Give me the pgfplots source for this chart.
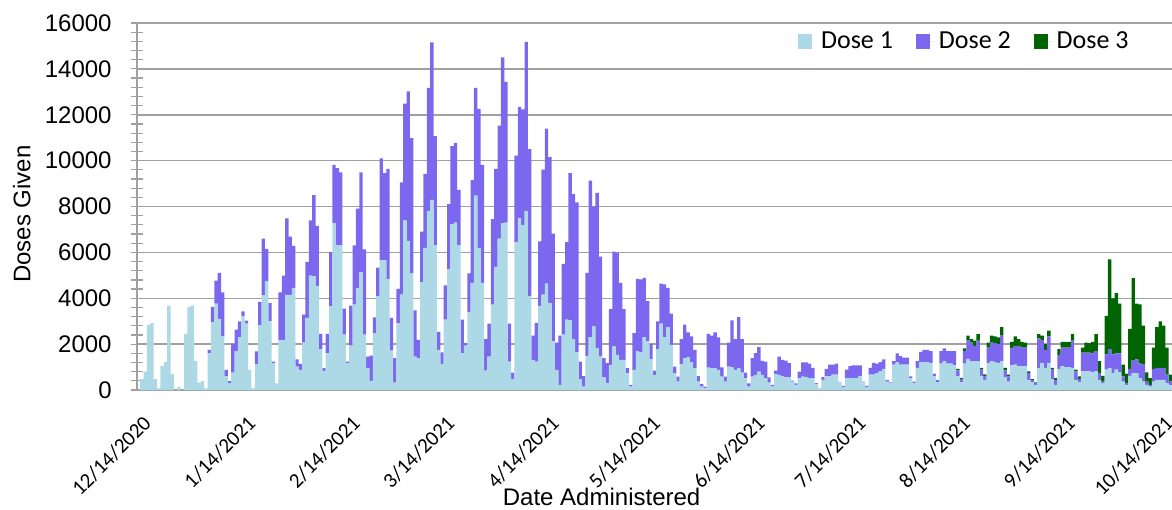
\documentclass[border=0pt]{standalone}
\usepackage{pgfplots}
\pgfplotsset{compat=1.18}
\usepackage{pgfplotstable}
\usepackage{fontspec}
\setmainfont{Liberation Sans}
\newfontfamily\carlito{Carlito}
\definecolor{doseone}{HTML}{ADD8E6}
\definecolor{dosetwo}{HTML}{7B68EE}
\definecolor{dosethree}{HTML}{006400}
\definecolor{gridgray}{HTML}{A0A0A0}
\pgfplotstableread{
day d1 t2 t3
0 0 0 0
1 470 470 470
2 800 800 800
3 2850 2850 2850
4 2920 2920 2920
5 470 470 470
6 70 70 70
7 1050 1050 1050
8 1210 1210 1210
9 3680 3680 3680
10 700 700 700
11 0 0 0
12 120 120 120
13 0 0 0
14 2450 2450 2450
15 3620 3620 3620
16 3690 3690 3690
17 1270 1270 1270
18 320 320 320
19 390 390 390
20 70 70 70
21 1600 1750 1750
22 2950 3620 3620
23 3770 4770 4770
24 3100 5110 5110
25 2340 4260 4260
26 610 880 880
27 290 390 390
28 760 2010 2010
29 1680 2630 2630
30 2290 2990 2990
31 3210 3430 3430
32 2890 3020 3020
33 880 880 880
34 70 70 70
35 1120 1680 1680
36 2830 3840 3840
37 4120 6600 6600
38 4750 6150 6150
39 2990 3790 3790
40 1170 1240 1240
41 290 290 290
42 2190 4260 4260
43 2190 4990 4990
44 4150 7480 7480
45 4150 6690 6690
46 4450 6280 6280
47 1020 1340 1340
48 880 1140 1140
49 2070 3290 3290
50 3140 5590 5590
51 4990 7400 7400
52 4960 8500 8500
53 4530 7150 7150
54 1780 2450 2450
55 830 950 950
56 1610 2450 2450
57 3650 6020 6020
58 7270 9810 9810
59 6310 9670 9670
60 6310 9490 9490
61 2410 3550 3550
62 1170 1240 1240
63 1930 3680 3680
64 3720 6310 6310
65 4450 7910 7910
66 5140 9490 9490
67 2410 6130 6130
68 950 1460 1460
69 400 1500 1500
70 2480 3170 3170
71 4090 5330 5330
72 5660 10100 10100
73 5660 9460 9460
74 4820 9640 9640
75 1720 3140 3140
76 320 1390 1390
77 2920 4410 4410
78 4160 9050 9050
79 7400 12480 12480
80 6500 13020 13020
81 5080 10980 10980
82 1460 3470 3470
83 1390 2190 2190
84 4700 6900 6900
85 6200 9420 9420
86 7810 13170 13170
87 8290 15150 15150
88 6310 11070 11070
89 1750 2530 2530
90 1140 1640 1640
91 3070 4560 4560
92 5260 8100 8100
93 7230 10630 10630
94 7300 10770 10770
95 6310 8730 8730
96 1610 3070 3070
97 1930 2040 2040
98 3390 5080 5080
99 4670 9150 9150
100 8470 13170 13170
101 6200 12260 12260
102 4670 9810 9810
103 850 2220 2220
104 1460 2890 2890
105 3720 7450 7450
106 5370 9640 9640
107 6600 11530 11530
108 7270 14500 14500
109 7300 13430 13430
110 1240 2890 2890
111 470 760 760
112 6450 10220 10220
113 7480 12340 12340
114 7180 12230 12230
115 7810 15180 15180
116 4100 10500 10500
117 1310 2370 2370
118 1240 2930 2930
119 3670 6480 6480
120 4160 9610 9610
121 4640 11390 11390
122 3800 10150 10150
123 2120 6820 6820
124 880 2070 2070
125 220 2370 2370
126 2410 5500 5500
127 3070 6450 6450
128 3040 9460 9460
129 2220 8540 8540
130 1640 8180 8180
131 470 1240 1240
132 150 610 610
133 1490 5110 5110
134 2310 9130 9130
135 2770 8000 8000
136 1830 8590 8590
137 1460 5810 5810
138 550 1390 1390
139 290 1170 1170
140 1100 3530 3530
141 1900 6030 6030
142 1530 5990 5990
143 1310 4670 4670
144 1310 3530 3530
145 730 950 950
146 150 220 220
147 880 2480 2480
148 1680 4850 4850
149 1640 4820 4820
150 2310 4890 4890
151 2120 3870 3870
152 1340 2010 2010
153 660 850 850
154 1780 2990 2990
155 2890 4640 4640
156 2310 4600 4600
157 2740 4450 4450
158 1970 3330 3330
159 730 1020 1020
160 370 580 580
161 1140 2220 2220
162 1390 2850 2850
163 1430 2510 2510
164 1200 2340 2340
165 950 1750 1750
166 370 610 610
167 150 260 260
168 70 150 150
169 980 2450 2450
170 950 2370 2370
171 950 2510 2510
172 880 2290 2290
173 580 990 990
174 370 580 580
175 1020 2070 2070
176 990 3040 3040
177 880 2220 2220
178 950 3180 3180
179 760 2220 2220
180 510 760 760
181 150 290 290
182 580 1390 1390
183 660 1610 1610
184 800 1870 1870
185 660 1270 1270
186 510 1240 1240
187 320 550 550
188 150 220 220
189 700 850 850
190 660 1460 1460
191 610 1310 1310
192 550 1280 1280
193 550 1170 1170
194 370 410 410
195 220 290 290
196 510 800 800
197 580 1200 1200
198 550 1200 1200
199 520 1150 1150
200 520 960 960
201 270 300 300
202 70 80 80
203 440 560 560
204 590 920 920
205 590 1110 1110
206 670 1110 1110
207 670 1150 1150
208 370 370 370
209 120 180 180
210 520 890 890
211 520 1040 1040
212 520 1070 1070
213 520 1070 1070
214 620 1070 1070
215 330 370 370
216 120 180 180
217 670 960 960
218 670 1180 1180
219 740 1150 1150
220 810 1210 1210
221 920 1330 1330
222 370 440 440
223 300 330 330
224 1110 1260 1260
225 1210 1600 1600
226 1110 1480 1480
227 1110 1410 1410
228 1110 1410 1410
229 520 590 590
230 300 370 370
231 960 1260 1260
232 1210 1660 1660
233 1210 1750 1750
234 1210 1750 1750
235 1180 1700 1700
236 590 710 710
237 330 440 440
238 1150 1700 1700
239 1260 1810 1810
240 1150 1700 1700
241 1150 1700 1700
242 1070 1700 1700
243 590 860 920
244 330 470 530
245 1150 1700 1810
246 1360 2190 2370
247 1260 2070 2220
248 1260 1920 2150
249 1260 2150 2440
250 620 890 960
251 440 620 680
252 1180 1850 2070
253 1260 2070 2370
254 1210 2040 2340
255 1180 2000 2290
256 1260 2370 2740
257 560 860 960
258 370 590 670
259 1070 1810 2100
260 1110 1920 2340
261 1040 1920 2220
262 1040 1850 2100
263 1040 1850 2070
264 440 740 810
265 330 440 470
266 220 300 330
267 960 2250 2440
268 1180 2150 2370
269 960 1750 2000
270 1180 2340 2590
271 470 890 960
272 220 440 520
273 920 1530 1780
274 1040 1850 2100
275 1000 1850 2100
276 1000 1850 2100
277 960 2150 2440
278 440 810 890
279 330 470 590
280 810 1630 1850
281 810 1630 2070
282 810 1630 2040
283 770 1600 2100
284 810 1700 2440
285 440 710 1260
286 300 370 620
287 890 1550 3230
288 960 1780 5700
289 740 1550 4000
290 890 1600 4220
291 770 1600 3770
292 370 590 1110
293 220 300 710
294 620 920 2660
295 740 1300 4880
296 740 1330 3770
297 520 1150 3730
298 370 1110 2810
299 220 370 770
300 150 220 520
301 370 920 1850
302 440 960 2740
303 440 960 2990
304 440 960 2810
305 300 670 1850
306 220 370 670
}\doses
\pgfplotsset{
  every axis y label/.style={at={(axis description cs:0,0.5)}, xshift=-57.5bp, yshift=-3.75bp, rotate=90, anchor=center, font=\fontsize{12bp}{14bp}\selectfont},
  every axis x label/.style={at={(axis description cs:0.449,0)}, yshift=-53.5bp, anchor=center, font=\fontsize{12bp}{14bp}\selectfont},
}
\tikzset{datelab/.style={rotate=45, anchor=north east, inner sep=0pt, font=\carlito\fontsize{10.5bp}{12bp}\selectfont}}
\begin{document}
\begin{tikzpicture}
\begin{axis}[
  scale only axis, width=517.6bp, height=183.5bp,
  xmin=0, xmax=307, ymin=0, ymax=16000,
  ybar stacked, bar width=1,
  axis lines*=left,
  axis line style={gridgray, line width=0.9bp},
  ymajorgrids, grid style={gridgray, line width=0.75bp},
  ytick={0,2000,...,16000}, minor ytick={400,800,...,15600},
  tick align=center, major tick length=6bp, minor tick length=6bp,
  ytick style={gridgray, line width=0.6bp},
  minor tick style={gridgray, line width=0.6bp},
  xtick={0,31,62,90,121,151,182,212,243,274,304},
  xticklabels={},
  xtick style={draw=none},
  scaled y ticks=false,
  /pgf/number format/1000 sep={},
  /pgf/number format/assume math mode=true,
  yticklabel style={font=\fontsize{12bp}{14bp}\selectfont, anchor=east, inner sep=0pt, xshift=-9.4bp},
  ylabel={Doses Given}, xlabel={Date Administered},
  legend style={draw=none, fill=none, legend columns=3, at={(rel axis cs:1,1)}, anchor=east, xshift=-19.5bp, yshift=-9.35bp, inner sep=0pt, font=\carlito\fontsize{13bp}{15bp}\selectfont, /tikz/every even column/.append style={column sep=9.5bp}},
  clip=false,
]
\addplot[fill=doseone, draw=none, legend image code/.code={\fill[doseone] (0bp,-3.75bp) rectangle (7bp,3.75bp); \path (0bp,0bp) -- (9.5bp,0bp);}] table[x expr=\thisrow{day}+0.5, y=d1] {\doses};
\addplot[fill=dosetwo, draw=none, legend image code/.code={\fill[dosetwo] (0bp,-3.75bp) rectangle (7bp,3.75bp); \path (0bp,0bp) -- (9.5bp,0bp);}] table[x expr=\thisrow{day}+0.5, y expr=\thisrow{t2}-\thisrow{d1}] {\doses};
\addplot[fill=dosethree, draw=none, legend image code/.code={\fill[dosethree] (0bp,-3.75bp) rectangle (7bp,3.75bp); \path (0bp,0bp) -- (9.5bp,0bp);}] table[x expr=\thisrow{day}+0.5, y expr=\thisrow{t3}-\thisrow{t2}] {\doses};
\legend{Dose 1, Dose 2, Dose 3}
\node[datelab] at ([xshift=2.5bp,yshift=-12bp]axis cs:0,0) {12/14/2020};
\node[datelab] at ([xshift=2.5bp,yshift=-12bp]axis cs:31,0) {1/14/2021};
\node[datelab] at ([xshift=2.5bp,yshift=-12bp]axis cs:62,0) {2/14/2021};
\node[datelab] at ([xshift=2.5bp,yshift=-12bp]axis cs:90,0) {3/14/2021};
\node[datelab] at ([xshift=2.5bp,yshift=-12bp]axis cs:121,0) {4/14/2021};
\node[datelab] at ([xshift=2.5bp,yshift=-12bp]axis cs:151,0) {5/14/2021};
\node[datelab] at ([xshift=2.5bp,yshift=-12bp]axis cs:182,0) {6/14/2021};
\node[datelab] at ([xshift=2.5bp,yshift=-12bp]axis cs:212,0) {7/14/2021};
\node[datelab] at ([xshift=2.5bp,yshift=-12bp]axis cs:243,0) {8/14/2021};
\node[datelab] at ([xshift=2.5bp,yshift=-12bp]axis cs:274,0) {9/14/2021};
\node[datelab] at ([xshift=1bp,yshift=-12bp]axis cs:304,0) {10/14/2021};
\end{axis}
\pgfresetboundingbox
\path[use as bounding box] (current axis.south west) ++(-68.4bp,-60bp) rectangle ++(586bp,255bp);
\end{tikzpicture}
\end{document}
